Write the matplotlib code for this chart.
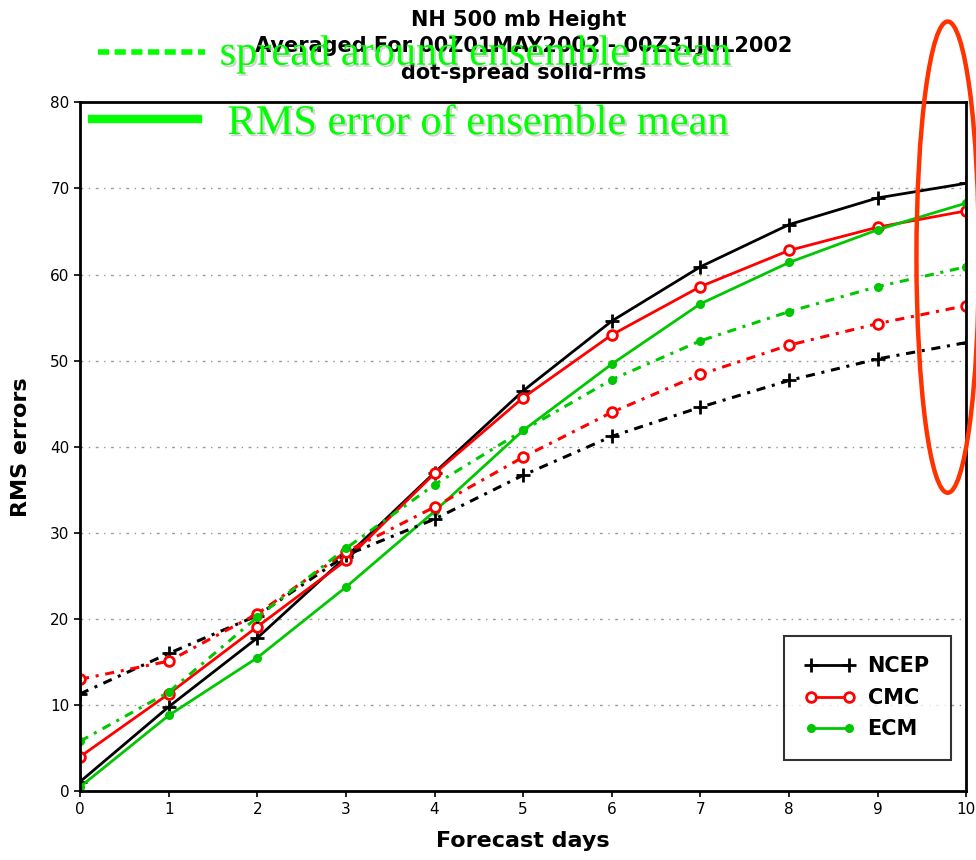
import numpy as np
import matplotlib.pyplot as plt
from matplotlib.patches import Ellipse
import matplotlib.patheffects as pe

days = np.arange(0, 11)

# RMS error of ensemble mean (solid)
ncep_rms = [1.1, 9.8, 17.8, 27.2, 37.0, 46.5, 54.6, 60.9, 65.8, 68.9, 70.6]
cmc_rms = [4.0, 11.3, 19.1, 26.8, 36.9, 45.7, 53.0, 58.6, 62.8, 65.5, 67.4]
ecm_rms = [0.5, 8.8, 15.5, 23.7, 32.5, 41.9, 49.6, 56.6, 61.4, 65.2, 68.3]

# spread around ensemble mean (dotted)
ncep_spr = [11.3, 16.0, 20.4, 27.4, 31.6, 36.7, 41.2, 44.6, 47.7, 50.2, 52.1]
cmc_spr = [13.0, 15.1, 20.6, 27.8, 33.0, 38.8, 44.0, 48.4, 51.8, 54.3, 56.4]
ecm_spr = [5.8, 11.5, 20.2, 28.2, 35.6, 41.9, 47.8, 52.3, 55.7, 58.6, 60.9]

green = '#00c800'
dotted = (0, (3, 2.2, 1, 2.2))

plt.rcParams['font.family'] = ['DejaVu Sans']

fig = plt.figure(figsize=(9.76, 8.6), dpi=100)
ax = fig.add_axes([0.082, 0.080, 0.908, 0.801])

ax.plot(days, ncep_rms, color='black', lw=2, marker='+', ms=10, mew=2, label='NCEP')
ax.plot(days, cmc_rms, color='red', lw=2, marker='o', ms=7, mfc='white', mew=2, label='CMC')
ax.plot(days, ecm_rms, color=green, lw=2, marker='o', ms=5, mew=1.5, label='ECM')
ax.plot(days, ncep_spr, color='black', lw=2.2, ls=dotted, marker='+', ms=10, mew=2)
ax.plot(days, cmc_spr, color='red', lw=2.2, ls=dotted, marker='o', ms=7, mfc='white', mew=2)
ax.plot(days, ecm_spr, color=green, lw=2.2, ls=dotted, marker='o', ms=5, mew=1.5)

ax.set_xlim(0, 10)
ax.set_ylim(0, 80)
ax.set_xticks(days)
ax.set_yticks(np.arange(0, 81, 10))
for yv in range(10, 80, 10):
    ax.axhline(yv, color='#999999', lw=1, ls=(0, (2, 4, 1, 4)), zorder=0)
ax.tick_params(labelsize=11, length=4, width=1.2, direction='out')
for s in ax.spines.values():
    s.set_linewidth(2)

ax.set_xlabel('Forecast days', fontsize=16, fontweight='bold', labelpad=10)
ax.set_ylabel('RMS errors', fontsize=16, fontweight='bold', labelpad=14)

leg = ax.legend(loc='lower right', bbox_to_anchor=(0.994, 0.03),
                prop={'size': 15, 'weight': 'bold'}, numpoints=2,
                handlelength=2.4, frameon=True, fancybox=False, edgecolor='black',
                borderpad=1.0, labelspacing=0.55, handletextpad=0.6)
leg.get_frame().set_linewidth(1.5)

title_kw = dict(ha='center', va='center', fontsize=15, fontweight='bold')
fig.text(0.531, 0.977, 'NH 500 mb Height', **title_kw)
fig.text(0.537, 0.946, 'Averaged For 00Z01MAY2002 - 00Z31JUL2002', **title_kw)
fig.text(0.537, 0.915, 'dot-spread solid-rms', **title_kw)

# overlay key for line styles
shadow = [pe.withSimplePatchShadow(offset=(1.5, -1.5), shadow_rgbFace='gray', alpha=0.35)]
fig.lines.append(plt.Line2D([0.100, 0.210], [0.940, 0.940], transform=fig.transFigure,
                            color='#00ff00', lw=4, ls=(0, (2, 1))))
fig.lines.append(plt.Line2D([0.094, 0.203], [0.862, 0.862], transform=fig.transFigure,
                            color='#00ff00', lw=6))
fig.text(0.225, 0.937, 'spread around ensemble mean', fontsize=30.5, color='#00ff00',
         family='Liberation Serif', va='center', path_effects=shadow)
fig.text(0.233, 0.856, 'RMS error of ensemble mean', fontsize=30.5, color='#00ff00',
         family='Liberation Serif', va='center', path_effects=shadow)

ell = Ellipse((0.971, 0.701), 0.064, 0.548, transform=fig.transFigure,
              fill=False, edgecolor='#ff3300', lw=3.2)
fig.patches.append(ell)

fig.savefig('out.png', dpi=100)
